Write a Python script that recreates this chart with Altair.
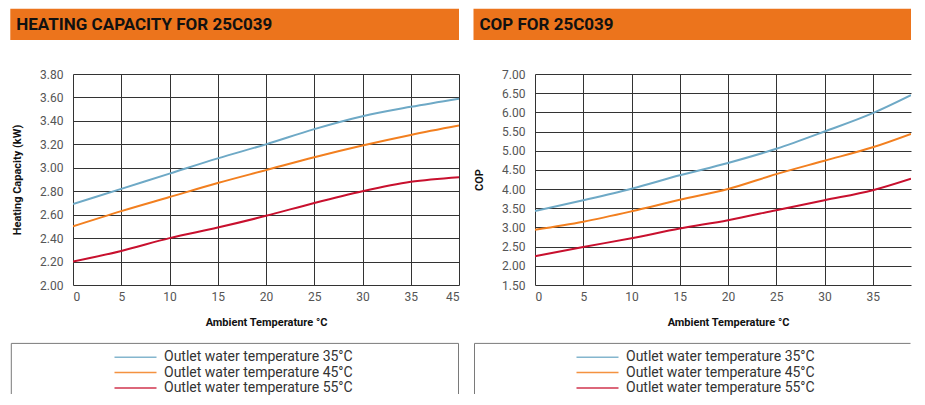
import altair as alt
import pandas as pd

FONT = "Roboto"

ambient = ["0", "5", "10", "15", "20", "25", "30", "35", "45"]
series = [
    "Outlet water temperature 35°C",
    "Outlet water temperature 45°C",
    "Outlet water temperature 55°C",
]
colors = ["#6ea9c6", "#f27f1f", "#c8102e"]

cap_35 = [2.69, 2.82, 2.95, 3.08, 3.20, 3.33, 3.44, 3.52, 3.59]
cap_45 = [2.50, 2.63, 2.75, 2.87, 2.98, 3.09, 3.19, 3.28, 3.36]
cap_55 = [2.20, 2.29, 2.40, 2.49, 2.59, 2.70, 2.80, 2.88, 2.92]

cop_35 = [3.43, 3.71, 4.01, 4.36, 4.68, 5.05, 5.50, 5.98, 6.45]
cop_45 = [2.94, 3.15, 3.42, 3.72, 4.00, 4.39, 4.74, 5.09, 5.44]
cop_55 = [2.25, 2.49, 2.72, 2.97, 3.19, 3.45, 3.71, 3.97, 4.27]

cap_ticks = [2.00, 2.20, 2.40, 2.60, 2.80, 3.00, 3.20, 3.40, 3.60, 3.80]
cop_ticks = [1.50, 2.00, 2.50, 3.00, 3.50, 4.00, 4.50, 5.00, 5.50, 6.00, 6.50, 7.00]

titles = ["HEATING CAPACITY FOR 25C039", "COP FOR 25C039"]
y_titles = ["Heating Capacity (kW)", "COP"]
x_title = "Ambient Temperature °C"

ORANGE = "#ec741c"
BOX = "#7a7a7a"
PLOT_H = 211
STEP = 386 / 8  # pixels between ambient categories

color_scale = alt.Scale(domain=series, range=colors)
label_expr = "[" + ",".join("'%s'" % a for a in ambient) + "][datum.value]"


def to_long(vals_list):
    rows = []
    for s, vals in zip(series, vals_list):
        for k, v in enumerate(vals):
            rows.append({"idx": k, "value": v, "series": s})
    return pd.DataFrame(rows)


def panel(i, vals_list, ticks, plot_w, left, n_labels):
    right = plot_w
    df = to_long(vals_list)
    tdf = pd.DataFrame({"t": [titles[i]]})
    ldf = pd.DataFrame({"series": series})

    lines = alt.Chart(df).mark_line(interpolate="monotone", strokeWidth=2, clip=True).encode(
        x=alt.X("idx:Q",
                scale=alt.Scale(domain=[0, plot_w / STEP], nice=False, zero=False, clamp=True),
                axis=alt.Axis(title=x_title, values=list(range(n_labels)), labelExpr=label_expr,
                              labelAngle=0, grid=True, ticks=False, domain=False,
                              labelPadding=6, titlePadding=14, titleX=193)),
        y=alt.Y("value:Q",
                scale=alt.Scale(domain=[ticks[0], ticks[-1]], nice=False, zero=False),
                axis=alt.Axis(values=ticks, format=".2f", title=y_titles[i], grid=True,
                              ticks=False, domain=False, labelPadding=10, titlePadding=17)),
        color=alt.Color("series:N", scale=color_scale, legend=None),
    )

    # orange title bar
    bar = alt.Chart(tdf).mark_rect(color=ORANGE).encode(
        x=alt.value(-left), x2=alt.value(right), y=alt.value(-65.3), y2=alt.value(-34))
    bar_text = alt.Chart(tdf).mark_text(
        align="left", baseline="alphabetic", font=FONT, fontSize=17,
        fontWeight="bold", color="#111111").encode(
        x=alt.value(-left + 6), y=alt.value(-44), text="t:N")

    # legend frame (its bottom edge lies below the picture)
    box_l = -left + 1
    box_top = 269.4
    box_bot = 320
    frame_top = alt.Chart(tdf).mark_rule(color=BOX, strokeWidth=1).encode(
        x=alt.value(box_l), x2=alt.value(right - 0.5), y=alt.value(box_top))
    frame_left = alt.Chart(tdf).mark_rule(color=BOX, strokeWidth=1).encode(
        x=alt.value(box_l), y=alt.value(box_top), y2=alt.value(box_bot))
    frames = [frame_top, frame_left]
    if i == 0:
        frames.append(alt.Chart(tdf).mark_rule(color=BOX, strokeWidth=1).encode(
            x=alt.value(right - 0.5), y=alt.value(box_top), y2=alt.value(box_bot)))

    ly = alt.Y("series:N", sort=series,
               scale=alt.Scale(type="point", padding=0, domain=series, range=[283.2, 314.0]),
               axis=None)
    leg_rules = alt.Chart(ldf).mark_rule(strokeWidth=1.5, opacity=0.85).encode(
        x=alt.value(41.5), x2=alt.value(83.5), y=ly,
        color=alt.Color("series:N", scale=color_scale, legend=None))
    leg_text = alt.Chart(ldf).mark_text(align="left", baseline="middle", font=FONT,
                                        fontSize=14, color="#333333").encode(
        x=alt.value(91), y=ly, text="series:N")

    return (
        alt.layer(bar, bar_text, lines, *frames, leg_rules, leg_text)
        .resolve_scale(y="independent")
        .properties(width=plot_w, height=PLOT_H,
                    view=alt.ViewBackground(fill="white", stroke="transparent"))
    )


chart = (
    alt.hconcat(
        panel(0, [cap_35, cap_45, cap_55], cap_ticks, 386, 62.7, 9),
        panel(1, [cop_35, cop_45, cop_55], cop_ticks, 376, 61.5, 8),
        spacing=13,
    )
    .properties(padding={"left": 1, "top": 0, "right": 0, "bottom": 0})
    .configure_axis(
        labelFont=FONT, labelFontSize=12, labelColor="#555555",
        titleFont=FONT, titleFontSize=11, titleFontWeight="bold", titleColor="#111111",
        gridColor="#333333", gridWidth=1, gridOpacity=1,
    )
)

chart.save("out.html", embed_options={"renderer": "svg", "actions": False})
